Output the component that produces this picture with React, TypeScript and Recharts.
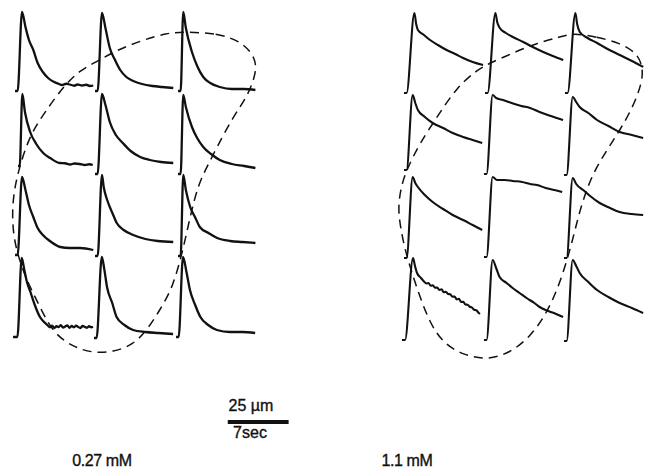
import { LineChart, Line, XAxis, YAxis } from "recharts";

type Pt = [number, number];

// each trace: [seconds after stimulus, shortening in µm]
// 0.27 mM
const lowRow1: Pt[][] = [
  [[0, 0], [0.3, 0], [0.8, 31.6], [1.2, 25.6], [1.6, 20.4], [2.1, 16.4], [2.6, 11.2], [3.2, 7.6], [3.8, 5.2], [4.5, 3.6], [5.0, 2.9], [5.4, 2.4], [5.9, 2.9], [6.3, 2.6], [6.8, 2.1], [7.2, 2.6], [7.7, 2.2], [8.2, 2.5], [8.6, 2.0], [9.0, 2.2]],
  [[0, 0], [0.3, 0], [0.8, 31.2], [1.2, 25.2], [1.7, 17.2], [2.3, 12.4], [2.9, 8.4], [3.6, 5.6], [4.4, 4.0], [5.4, 2.8], [6.6, 2.0], [7.7, 1.6], [9.0, 1.2]],
  [[0, 0], [0.3, 0], [0.6, 31.6], [0.9, 25.2], [1.6, 15.6], [2.2, 10.0], [2.9, 5.6], [3.7, 3.2], [4.8, 1.6], [6.2, 0.8], [7.6, 0.8], [8.9, 0.4]],
];
const lowRow2: Pt[][] = [
  [[0, 0], [0.2, 0], [0.5, 28.8], [0.8, 21.6], [1.4, 13.6], [2.1, 8.8], [2.9, 5.2], [3.7, 3.2], [4.8, 1.2], [5.4, 1.1], [6.0, 0.6], [6.5, 1.0], [7.1, 0.8], [7.7, 0.4], [8.2, 0.7], [8.6, 0.4]],
  [[0, 0], [0.3, 0], [0.8, 32.0], [1.2, 27.6], [1.7, 20.8], [2.4, 15.6], [3.2, 12.4], [4.1, 9.2], [5.2, 6.8], [6.3, 5.6], [7.6, 4.8], [9.0, 4.4]],
  [[0, 0], [0.3, 0], [0.6, 31.6], [0.9, 26.8], [1.6, 18.8], [2.2, 14.4], [2.9, 10.8], [3.8, 8.0], [4.8, 5.6], [6.2, 4.0], [7.6, 3.2], [8.9, 2.4]],
];
const lowRow3: Pt[][] = [
  [[0, 0], [0.3, 0], [0.8, 31.2], [1.2, 26.0], [1.6, 20.0], [2.1, 15.2], [2.6, 10.8], [3.2, 8.0], [4.0, 5.6], [5.2, 3.2], [6.3, 2.8], [7.5, 2.8], [9.0, 2.0]],
  [[0, 0], [0.3, 0], [0.8, 32.4], [1.0, 27.6], [1.4, 22.4], [2.0, 17.2], [2.5, 13.2], [3.3, 10.4], [4.4, 8.4], [5.8, 6.8], [7.2, 6.0], [9.0, 5.6]],
  [[0, 0], [0.3, 0], [0.6, 32.4], [0.9, 26.4], [1.4, 19.6], [2.0, 15.2], [2.5, 11.6], [3.5, 9.2], [4.5, 7.2], [6.0, 6.0], [7.4, 5.6], [8.9, 5.2]],
];
const lowRow4: Pt[][] = [
  [[0, 0], [0.5, 0], [1.0, 31.6], [1.3, 26.8], [1.6, 22.0], [2.0, 18.0], [2.5, 12.8], [3.1, 8.0], [3.7, 5.6], [4.0, 4.6], [4.25, 3.9], [4.5, 4.5], [4.75, 3.6], [5.0, 4.3], [5.25, 4.0], [5.5, 4.7], [5.75, 3.8], [6.0, 4.2], [6.25, 4.6], [6.5, 3.7], [6.75, 4.4], [7.0, 3.9], [7.25, 4.5], [7.5, 4.0], [7.75, 3.6], [8.0, 4.4], [8.25, 4.1], [8.5, 3.7], [8.75, 4.3], [9.0, 3.9], [9.2, 4.1]],
  [[0, 0], [0.3, 0], [0.9, 32.4], [1.2, 27.2], [1.5, 20.4], [2.1, 14.0], [2.6, 8.4], [3.5, 5.2], [4.5, 3.2], [5.9, 2.4], [7.4, 2.0], [9.1, 1.6]],
  [[0, 0], [0.3, 0], [0.8, 32.0], [1.2, 26.0], [1.6, 18.8], [2.2, 12.8], [2.8, 8.0], [3.7, 4.8], [4.7, 2.8], [6.2, 2.0], [7.6, 2.0], [9.1, 1.6]],
];
// start of each sweep (s) and resting level (µm)
const lowStart = [
  [1.73, 10.93, 20.48],
  [2.07, 10.93, 20.48],
  [1.73, 10.93, 20.48],
  [1.5, 10.81, 20.25],
];
const lowBase = [
  [153.2, 153.2, 153.2],
  [123.2, 120.0, 120.0],
  [87.6, 87.2, 87.2],
  [54.8, 54.4, 54.8],
];

// 1.1 mM
const highRow1: Pt[][] = [
  [[0, 0], [0.3, 0], [1.2, 32.0], [1.4, 27.6], [1.6, 25.2], [2.3, 23.2], [3.0, 21.2], [3.9, 19.2], [4.9, 17.2], [5.9, 15.6], [6.8, 14.0], [7.9, 12.4], [9.1, 11.2]],
  [[0, 0], [0.3, 0], [1.2, 32.0], [1.4, 28.4], [1.7, 26.0], [2.4, 24.0], [3.2, 22.4], [4.4, 20.4], [5.5, 18.4], [6.7, 16.4], [7.8, 14.8], [9.0, 13.2]],
  [[0, 0], [0.3, 0], [1.2, 32.0], [1.4, 27.6], [1.7, 24.4], [2.6, 22.0], [3.7, 20.0], [4.9, 17.6], [6.3, 15.2], [7.7, 12.8], [9.0, 10.4]],
];
const highRow2: Pt[][] = [
  [[0, 0], [0.3, 0], [1.0, 30.0], [1.3, 26.8], [1.6, 24.0], [2.4, 21.2], [3.3, 18.8], [4.5, 16.8], [5.6, 14.8], [6.8, 13.2], [7.9, 12.0], [9.0, 10.8]],
  [[0, 0], [0.3, 0], [1.0, 31.6], [1.4, 30.4], [2.2, 29.6], [3.2, 28.4], [4.3, 27.2], [5.3, 26.4], [6.4, 24.8], [7.7, 23.2], [9.1, 21.6]],
  [[0, 0], [0.3, 0], [1.0, 31.2], [1.4, 29.2], [1.8, 27.2], [2.8, 24.8], [3.8, 22.0], [5.1, 19.6], [6.4, 17.2], [7.8, 16.0], [9.1, 14.8]],
];
const highRow3: Pt[][] = [
  [[0, 0], [0.3, 0], [1.0, 32.4], [1.3, 30.0], [1.6, 28.4], [2.4, 25.2], [3.3, 22.4], [4.5, 19.6], [5.6, 17.2], [6.8, 15.2], [7.9, 13.2], [9.0, 11.2]],
  [[0, 0], [0.3, 0], [1.0, 32.0], [1.5, 30.8], [2.4, 30.8], [3.3, 30.4], [4.4, 30.0], [5.3, 29.2], [6.1, 28.8], [7.1, 27.6], [8.1, 26.8], [9.0, 26.0]],
  [[0, 0], [0.3, 0], [1.0, 32.0], [1.4, 29.6], [2.2, 27.2], [3.0, 24.8], [4.1, 22.0], [5.3, 20.0], [6.4, 18.4], [7.8, 17.6], [9.1, 17.2]],
];
const highRow4: Pt[][] = [
  [[0, 0], [0.35, 0], [1.27, 32.8], [1.5, 29.6], [1.73, 26.8], [2.19, 24.8], [2.53, 23.4], [2.8, 22.6], [3.05, 22.8], [3.3, 21.7], [3.55, 21.9], [3.8, 20.9], [4.05, 21.0], [4.3, 20.0], [4.55, 20.3], [4.8, 19.1], [5.05, 19.3], [5.3, 18.4], [5.55, 18.3], [5.8, 17.3], [6.05, 17.4], [6.3, 16.2], [6.55, 16.5], [6.8, 15.2], [7.05, 15.3], [7.3, 14.2], [7.55, 14.1], [7.8, 13.3], [8.05, 13.0], [8.3, 12.1], [8.55, 11.9], [8.8, 10.9], [8.97, 10.4]],
  [[0, 0], [0.3, 0], [1.0, 32.0], [1.4, 28.8], [1.8, 25.2], [2.6, 22.8], [3.3, 20.8], [4.1, 18.8], [4.9, 16.8], [5.8, 14.8], [6.4, 13.2], [7.4, 11.6], [8.3, 10.4], [9.1, 9.2]],
  [[0, 0], [0.3, 0], [1.0, 32.4], [1.4, 30.0], [1.8, 27.2], [2.8, 23.6], [3.8, 20.4], [5.1, 17.6], [6.4, 15.2], [7.8, 13.2], [9.1, 11.2]],
];
const highStart = [
  [46.47, 55.79, 64.99],
  [46.47, 55.67, 64.88],
  [46.47, 55.67, 64.88],
  [46.24, 55.67, 64.88],
];
const highBase = [
  [152.4, 152.4, 152.4],
  [121.6, 120.0, 119.6],
  [86.4, 86.8, 86.4],
  [53.6, 53.6, 53.2],
];

// dashed loops (s, µm)
const lowLoop: Pt[] = [
  [21.05, 176.8], [24.96, 176.4], [27.95, 172.8], [29.56, 165.6], [29.33, 158.8], [28.41, 150.8],
  [26.8, 142.8], [24.96, 130.8], [23.81, 122.8], [22.78, 115.6], [21.86, 102.8], [21.05, 89.6],
  [19.9, 74.8], [18.4, 65.6], [16.91, 57.6], [15.3, 51.6], [13.0, 48.8], [10.7, 48.4],
  [8.4, 50.8], [6.1, 56.4], [4.6, 66.8], [3.22, 76.4], [2.3, 84.8], [1.61, 93.6],
  [1.38, 103.6], [1.61, 113.6], [2.3, 123.6], [3.45, 135.6], [5.18, 144.8], [7.25, 154.8],
  [9.2, 161.6], [11.5, 165.6], [13.46, 169.6], [16.45, 173.6], [19.21, 176.4],
];
const highLoop: Pt[] = [
  [65.91, 176.4], [68.67, 174.8], [71.32, 172.4], [73.27, 168.4], [73.96, 162.8], [73.85, 156.4],
  [72.81, 146.8], [71.32, 137.6], [69.82, 129.6], [68.21, 120.4], [67.06, 109.6], [66.37, 100.8],
  [65.57, 89.6], [64.42, 76.4], [62.92, 64.4], [60.97, 54.8], [58.67, 48.4], [56.02, 45.6],
  [53.26, 47.6], [50.96, 52.4], [49.46, 60.4], [48.31, 70.8], [47.39, 80.4], [46.59, 89.6],
  [46.01, 99.6], [45.78, 107.6], [46.24, 116.4], [46.93, 122.8], [48.31, 132.4], [50.27, 142.8],
  [52.57, 154.8], [54.87, 161.6], [56.36, 164.4], [59.01, 168.4], [61.77, 172.4], [64.42, 174.8],
];

// calibration: 7 sec long
const scaleBar: Pt[] = [[26.2, 20.8], [33.2, 20.8]];

const W = 652;
const H = 474;
const INK = "#111";
const FONT = "'Liberation Sans', Arial, Helvetica, sans-serif";

function buildTraces(rows: Pt[][][], starts: number[][], bases: number[][]) {
  return rows.flatMap((row, r) =>
    row.map((trace, c) =>
      trace.map(([dt, a]) => ({ t: starts[r][c] + dt, u: bases[r][c] + a }))
    )
  );
}

const toXY = (pts: Pt[]) => pts.map(([t, u]) => ({ t, u }));

const lowTraces = buildTraces([lowRow1, lowRow2, lowRow3, lowRow4], lowStart, lowBase);
const highTraces = buildTraces([highRow1, highRow2, highRow3, highRow4], highStart, highBase);

function Label({ text, cx, top, spacing = 0 }: { text: string; cx: number; top: number; spacing?: number }) {
  return (
    <div
      style={{
        position: "absolute",
        left: cx - 60,
        top,
        width: 120,
        textAlign: "center",
        fontFamily: FONT,
        fontSize: 16,
        lineHeight: "16px",
        letterSpacing: spacing,
        color: INK,
        WebkitTextStroke: "0.35px #111",
      }}
    >
      {text}
    </div>
  );
}

export default function App() {
  return (
    <div style={{ position: "absolute", left: 0, top: 0, width: W, height: H, background: "#fff" }}>
      <LineChart width={W} height={H} margin={{ top: 0, right: 0, bottom: 0, left: 0 }}>
        <XAxis type="number" dataKey="t" domain={[0, 75]} hide allowDataOverflow />
        <YAxis type="number" domain={[0, 189.6]} hide allowDataOverflow />

        {lowTraces.map((d, i) => (
          <Line
            key={`low-${i}`}
            data={d}
            dataKey="u"
            type="monotone"
            stroke={INK}
            strokeWidth={2.3}
            dot={false}
            activeDot={false}
            isAnimationActive={false}
          />
        ))}
        {highTraces.map((d, i) => (
          <Line
            key={`high-${i}`}
            data={d}
            dataKey="u"
            type="monotone"
            stroke={INK}
            strokeWidth={2.1}
            dot={false}
            activeDot={false}
            isAnimationActive={false}
          />
        ))}

        <Line
          data={toXY(lowLoop)}
          dataKey="u"
          type="basisClosed"
          stroke={INK}
          strokeWidth={1.5}
          strokeDasharray="9 6"
          dot={false}
          activeDot={false}
          isAnimationActive={false}
        />
        <Line
          data={toXY(highLoop)}
          dataKey="u"
          type="basisClosed"
          stroke={INK}
          strokeWidth={1.5}
          strokeDasharray="9 6"
          dot={false}
          activeDot={false}
          isAnimationActive={false}
        />

        <Line
          data={toXY(scaleBar)}
          dataKey="u"
          type="linear"
          stroke={INK}
          strokeWidth={4}
          dot={false}
          activeDot={false}
          isAnimationActive={false}
        />
      </LineChart>

      <Label text="25 µm" cx={251} top={398} />
      <Label text="7sec" cx={250} top={425} />
      <Label text="0.27 mM" cx={102} top={453} spacing={-0.4} />
      <Label text="1.1 mM" cx={407} top={453} spacing={-0.4} />
    </div>
  );
}
